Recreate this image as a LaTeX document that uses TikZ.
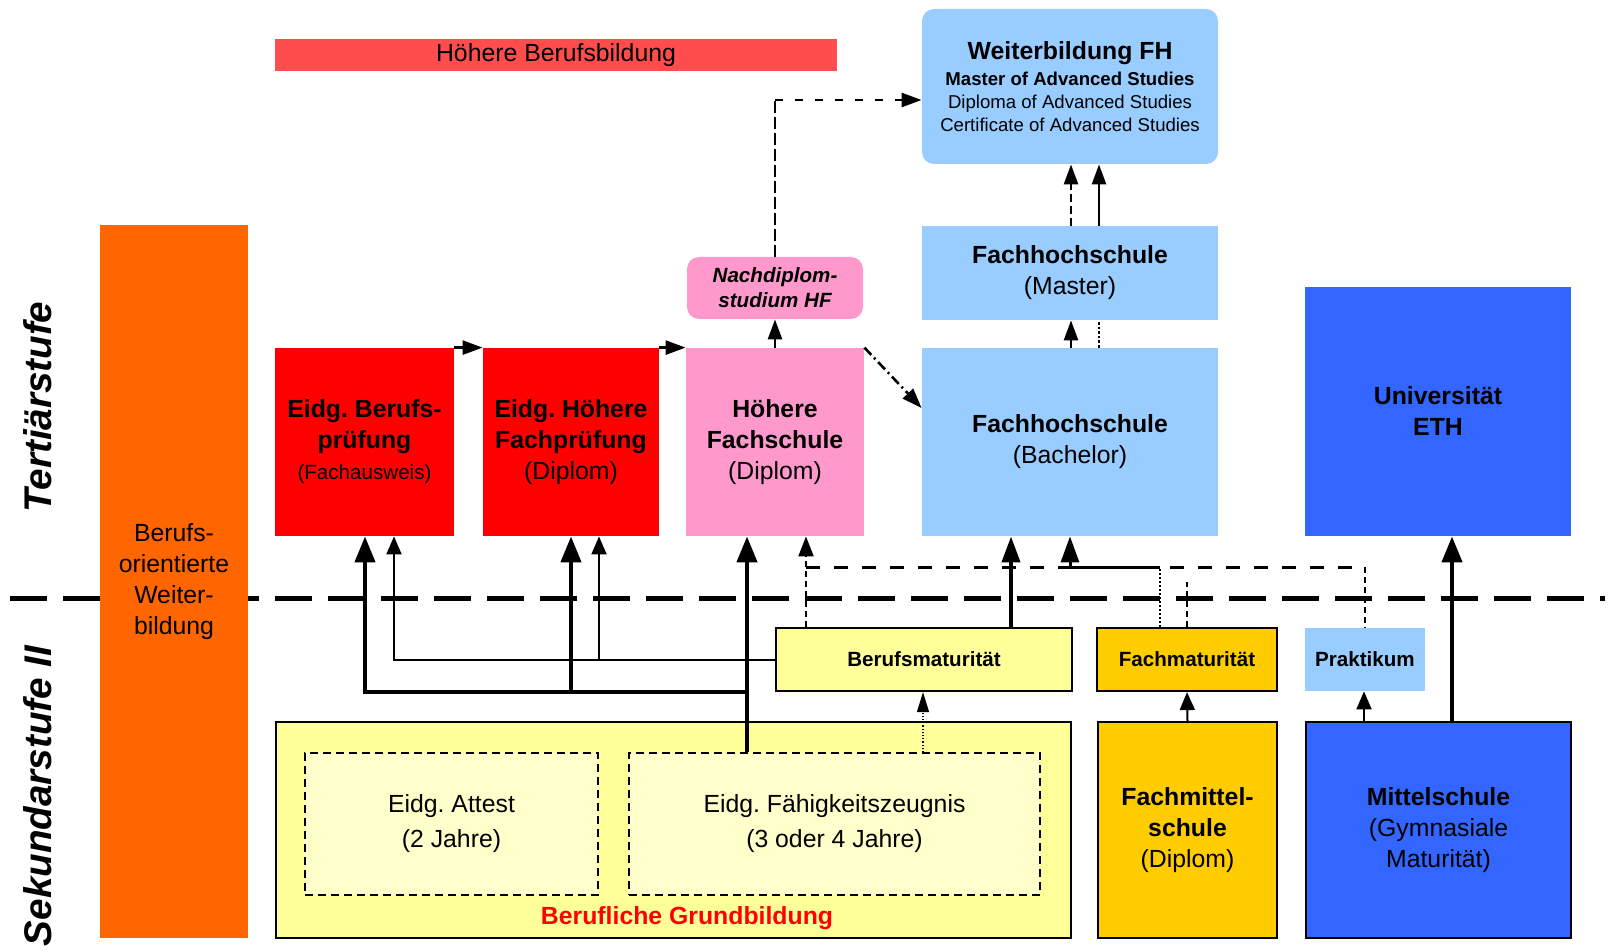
\documentclass[tikz,border=0pt]{standalone}
\usepackage{fontspec}
\setmainfont{Liberation Sans}
\usetikzlibrary{arrows.meta,calc}
\frenchspacing
\definecolor{hbbred}{HTML}{FF4D4D}
\definecolor{lblue}{HTML}{99CCFF}
\definecolor{dblue}{HTML}{3366FF}
\definecolor{pinkc}{HTML}{FF99CC}
\definecolor{redc}{HTML}{FF0000}
\definecolor{orangec}{HTML}{FF6600}
\definecolor{yel}{HTML}{FFFF99}
\definecolor{lyel}{HTML}{FFFFCC}
\definecolor{goldc}{HTML}{FFCC00}
\newcommand\fsA{\fontsize{12.4}{15.5}\selectfont}
\newcommand\fsB{\fontsize{10.3}{12.5}\selectfont}
\newcommand\fsC{\fontsize{9.3}{11.5}\selectfont}
\begin{document}
\begin{tikzpicture}[x=0.5pt,y=-0.5pt,
  box/.style={draw=none, inner sep=0pt, align=center, font=\fsA},
  bbox/.style={box, draw=black, line width=1.1pt},
  dbox/.style={box, draw=black, line width=0.9pt, dash pattern=on 4pt off 2.5pt},
  thickarr/.style={line width=2.2pt, -{Triangle[width=10pt,length=13pt]}},
  thinarr/.style={line width=1pt, -{Triangle[width=7.5pt,length=9pt]}},
  midarr/.style={line width=1.3pt, -{Triangle[width=7pt,length=10pt]}},
  steplabel/.style={rotate=90, inner sep=0pt, font=\fontsize{19.3}{23}\selectfont\bfseries\itshape}
]
\useasboundingbox (0,0) rectangle (1617,952);

% separator
\draw[line width=2.5pt, dash pattern=on 18.5pt off 8pt] (10,598) -- (1605,598);

% boxes
\node[box, fill=hbbred, minimum width=281pt, minimum height=16pt] (hbb) at (556,55) {Höhere Berufsbildung};
\node[box, fill=lblue, rounded corners=6pt, minimum width=148pt, minimum height=77.5pt, font=\fsC] (wfh) at (1070,86.5)
  {{\fsA\bfseries Weiterbildung FH}\\[1.5pt]\textbf{Master of Advanced Studies}\\Diploma of Advanced Studies\\Certificate of Advanced Studies};
\node[box, fill=lblue, minimum width=148pt, minimum height=47pt] (fhm) at (1070,273) {\textbf{Fachhochschule}\\(Master)};
\node[box, fill=lblue, minimum width=148pt, minimum height=94pt] (fhb) at (1070,442) {\textbf{Fachhochschule}\\(Bachelor)};
\node[box, fill=dblue, minimum width=133pt, minimum height=124.5pt] (uni) at (1438,411.5) {\textbf{Universität}\\\textbf{ETH}};
\node[box, fill=pinkc, rounded corners=6pt, minimum width=88pt, minimum height=31pt, font=\fsB\bfseries\itshape] (ndhf) at (775,288) {Nachdiplom-\\studium HF};
\node[box, fill=pinkc, minimum width=89pt, minimum height=94pt] (hf) at (775,442) {\textbf{Höhere}\\\textbf{Fachschule}\\(Diplom)};
\node[box, fill=redc, minimum width=89.5pt, minimum height=94pt] (bp) at (364.5,442) {\textbf{Eidg. Berufs-}\\\textbf{prüfung}\\{\fsB (Fachausweis)}};
\node[box, fill=redc, minimum width=88pt, minimum height=94pt] (hfp) at (571,442) {\textbf{Eidg. Höhere}\\\textbf{Fachprüfung}\\(Diplom)};
\node[box, fill=orangec, minimum width=74pt, minimum height=356.5pt] (bow) at (174,581.5) {Berufs-\\orientierte\\Weiter-\\bildung};
\node[bbox, fill=yel, minimum width=148pt, minimum height=31.5pt, font=\fsB\bfseries] (bm) at (924,659.5) {Berufsmaturität};
\node[bbox, fill=goldc, minimum width=90pt, minimum height=31.5pt, font=\fsB\bfseries] (fm) at (1187,659.5) {Fachmaturität};
\node[box, fill=lblue, minimum width=60pt, minimum height=31.5pt, font=\fsB\bfseries] (prak) at (1365,659.5) {Praktikum};
\node[bbox, fill=yel, minimum width=397.5pt, minimum height=108pt] (gb) at (673.5,830) {};
\node[dbox, fill=lyel, minimum width=146.5pt, minimum height=71pt] (att) at (451.5,824) {Eidg. Attest\\[2pt](2 Jahre)};
\node[dbox, fill=lyel, minimum width=205.5pt, minimum height=71pt] (fz) at (834.5,824) {Eidg. Fähigkeitszeugnis\\[2pt](3 oder 4 Jahre)};
\node[font=\fsA\bfseries, text=redc, inner sep=0pt] (gbl) at (687,918) {Berufliche Grundbildung};
\node[bbox, fill=goldc, minimum width=89.5pt, minimum height=108pt] (fms) at (1187.5,830) {\textbf{Fachmittel-}\\\textbf{schule}\\(Diplom)};
\node[bbox, fill=dblue, minimum width=132.5pt, minimum height=108pt] (ms) at (1438.5,830) {\textbf{Mittelschule}\\(Gymnasiale\\Maturität)};

% side labels
\node[steplabel] (ter) at (38,407) {Tertiärstufe};
\node[steplabel] (sek) at (38,796) {Sekundarstufe II};

% x positions
\coordinate (x365) at (365,0);
\coordinate (x394) at (394,0);
\coordinate (x571) at (571,0);
\coordinate (x599) at (599,0);
\coordinate (x747) at (747,0);
\coordinate (x806) at (806,0);
\coordinate (x923) at (923,0);
\coordinate (x1011) at (1011,0);
\coordinate (x1071) at (1071,0);
\coordinate (x1099) at (1099,0);
\coordinate (x1187) at (1187,0);
\coordinate (x1364) at (1364,0);
\coordinate (x1452) at (1452,0);

% upper connectors
\draw[midarr] (bp.north east) -- (hfp.north west);
\draw[midarr] (hfp.north east) -- (hf.north west);
\draw[midarr] (hf.north) -- (ndhf.south);
\coordinate (c4) at (775,100);
\draw[line width=1.3pt, dash pattern=on 6pt off 2pt] (ndhf.north) -- (c4);
\draw[midarr, dash pattern=on 4pt off 6pt] (c4) -- (c4 -| wfh.west);
\draw[midarr, dash pattern=on 5pt off 2pt on 1pt off 2pt] (hf.north east) -- ($(fhb.north west)!0.32!(fhb.south west)$);
\draw[midarr, dash pattern=on 4pt off 2pt] (fhb.north -| x1071) -- (fhm.south -| x1071);
\draw[line width=1.3pt, densely dotted] (fhb.north -| x1099) -- (fhm.south -| x1099);
\draw[midarr, dash pattern=on 4pt off 2pt] (fhm.north -| x1071) -- (wfh.south -| x1071);
\draw[midarr] (fhm.north -| x1099) -- (wfh.south -| x1099);

% lower connectors
\coordinate (j1) at (747,692);
\draw[thickarr] (fz.north -| x747) -- (hf.south -| x747);
\draw[thickarr] (j1) -| (bp.south -| x365);
\draw[thickarr] (j1 -| x571) -- (hfp.south -| x571);
\draw[thinarr] (bm.west) -| (bp.south -| x394);
\draw[thinarr] (bm.west -| x599) -- (hfp.south -| x599);
\draw[line width=2pt, -{Triangle[width=9pt,length=13pt]}] (bm.north -| x1011) -- (fhb.south -| x1011);

\coordinate (d1) at (806,567);
\coordinate (d2) at (1365,567);
\coordinate (f1) at (1160,567);
\coordinate (f2) at (1070,567);
\draw[line width=1pt, dash pattern=on 3pt off 2pt, -{Triangle[width=7.5pt,length=10pt]}] (bm.north -| x806) -- (hf.south -| x806);
\draw[line width=1.5pt, dash pattern=on 7pt off 7pt] (d1) -- (d2);
\draw[line width=1pt, dash pattern=on 3pt off 2pt] (d2) -- (prak.north -| d2);
\draw[line width=1pt, densely dotted] (fm.north -| f1) -- (f1);
\draw[line width=1.5pt, -{Triangle[width=9pt,length=13pt]}] (f1) -- (f2) -- (fhb.south -| f2);
\draw[line width=1pt, dash pattern=on 3pt off 2pt] (fm.north -| x1187) -- (1187,582);

\draw[line width=0.6pt, densely dotted, -{Triangle[width=6pt,length=10pt]}] (fz.north -| x923) -- (bm.south -| x923);
\draw[thinarr] (fms.north) -- (fm.south);
\draw[thinarr] (ms.north -| x1364) -- (prak.south -| x1364);
\draw[thickarr] (ms.north -| x1452) -- (uni.south -| x1452);
\end{tikzpicture}
\end{document}
